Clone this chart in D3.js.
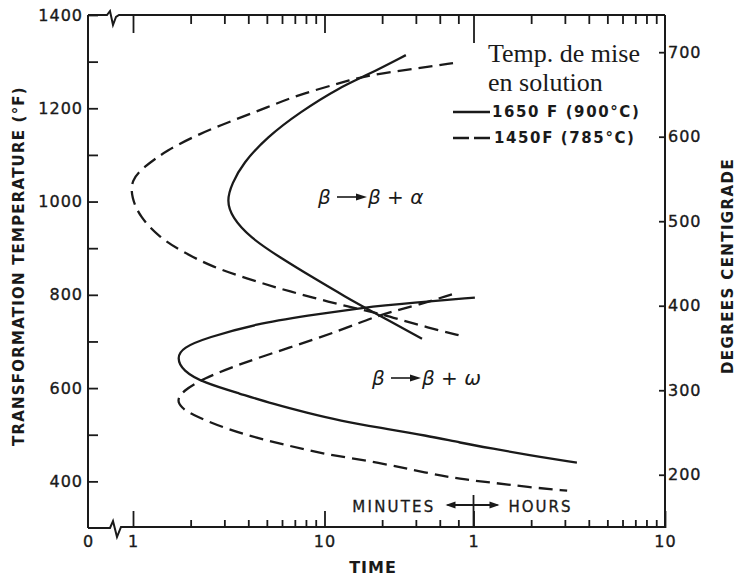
<!DOCTYPE html>
<html>
<head>
<meta charset="utf-8">
<script src="https://cdn.jsdelivr.net/npm/d3@7"></script>
<style>
  html, body { margin: 0; padding: 0; background: #fff; }
  svg { display: block; }
  .lbl { font-family: "DejaVu Sans", sans-serif; fill: #1a1a1a; }
</style>
</head>
<body>
<svg id="chart" width="739" height="577"></svg>
<script>
// ---------------- data (time in minutes, temperature in °F) ----------------
const TIME_DOMAIN = [1, 600];                 // 1 min .. 10 h
const TEMP_F_DOMAIN = [300, 1400];
const TEMP_C_DOMAIN = [137, 744];             // Celsius scale as printed on the right axis
const TIME_MAJOR = [1, 10, 60, 600];
const TIME_MAJOR_LABELS = ["1", "10", "1", "10"];
const TIME_MINOR = [2, 3, 4, 5, 6, 7, 8, 9, 20, 30, 40, 50, 120, 180, 240, 300, 360, 420, 480, 540];
const TEMP_F_MAJOR = [400, 600, 800, 1000, 1200, 1400];
const TEMP_F_MINOR = [500, 700, 900, 1100, 1300];
const TEMP_C_TICKS = [200, 300, 400, 500, 600, 700];

// 1650 F (900°C) solution temperature - solid
const solid1650Upper = [[26.6,1314],[16.7,1271],[12.0,1245],[7.45,1192],[5.0,1138],[3.75,1082],[3.29,1039],[3.08,1002],[3.29,966],[4.08,923],[5.86,880],[8.7,837],[13.1,794],[16.7,770],[32.3,706]];
const solid1650Lower = [[61,794],[29,783],[15.9,773],[8.1,755],[4.44,738],[2.43,708],[1.82,687],[1.69,665],[1.82,637],[2.32,612],[3.62,588],[5.38,566],[8.1,547],[12.05,530],[19.5,515],[34.3,498],[51,483],[76,470],[114,457],[208,440]];
// 1450 F (785°C) solution temperature - dashed
const dashed1450Upper = [[46.9,1297],[31.5,1286],[16.7,1271],[12.05,1254],[7.45,1230],[5.01,1202],[3.33,1174],[2.24,1146],[1.5,1110],[1.13,1073],[0.98,1046],[0.98,1009],[1.09,966],[1.38,923],[1.76,895],[2.62,859],[3.94,835],[5.86,813],[8.7,794],[13.1,775],[19.5,760],[29,738],[54,710]];
const dashed1450Lower = [[46.3,801],[29,775],[19.5,758],[12.05,723],[6.6,687],[3.62,652],[2.32,620],[1.82,594],[1.69,573],[1.8,558],[1.98,545],[2.95,515],[4.44,493],[6.6,476],[9.8,459],[19.5,440],[34.3,418],[51,405],[76,397],[114,388],[185,380]];

const LEGEND_TITLE = ["Temp. de mise", "en solution"];
const LEGEND_ITEMS = ["1650 F (900°C)", "1450F (785°C)"];

// ---------------- layout ----------------
const L = 88, R = 665, T = 15, B = 528;
const ink = "#1a1a1a";
const svg = d3.select("#chart");

const x = d3.scaleLog().domain(TIME_DOMAIN).range([133, R]);
const y = d3.scaleLinear().domain(TEMP_F_DOMAIN).range([B, T]);
const yC = d3.scaleLinear().domain(TEMP_C_DOMAIN).range([B, T]);

function styleAxis(g) {
  g.select(".domain").remove();
  g.selectAll(".tick line").attr("stroke", ink).attr("stroke-width", 1.8);
  g.selectAll(".tick text").attr("class", "lbl").attr("font-size", 16)
    .attr("letter-spacing", 1).attr("fill", ink).attr("stroke", ink).attr("stroke-width", 0.35);
}

// frame lines (with axis breaks on the time axis)
const frame = svg.append("g").attr("fill", "none").attr("stroke", ink).attr("stroke-width", 2);
frame.append("path").attr("d", `M${L},${T} V${B}`);
frame.append("path").attr("d", `M${R},${T} V${B}`);
frame.append("path").attr("d", `M${L},${B} H110 L113,521 L117,537 L121,527 H${R}`);
frame.append("path").attr("d", `M${L},${T} H107 L110,11 L113,25 L116,17 L119,15 H${R}`);

// left °F axis
svg.append("g").attr("transform", `translate(${L},0)`)
  .call(d3.axisLeft(y).tickValues(TEMP_F_MAJOR).tickSize(-10).tickPadding(5).tickFormat(d3.format("d")))
  .call(styleAxis);
svg.append("g").attr("transform", `translate(${L},0)`)
  .call(d3.axisLeft(y).tickValues(TEMP_F_MINOR).tickSize(-10).tickFormat(""))
  .call(styleAxis);

// right °C axis
svg.append("g").attr("transform", `translate(${R},0)`)
  .call(d3.axisRight(yC).tickValues(TEMP_C_TICKS).tickSize(-6).tickPadding(3).tickFormat(d3.format("d")))
  .call(styleAxis);

// bottom time axis
svg.append("g").attr("transform", `translate(0,${B})`)
  .call(d3.axisBottom(x).tickValues(TIME_MAJOR).tickSize(-17).tickPadding(8)
    .tickFormat((d, i) => TIME_MAJOR_LABELS[i]))
  .call(styleAxis);
svg.append("g").attr("transform", `translate(0,${B})`)
  .call(d3.axisBottom(x).tickValues(TIME_MINOR).tickSize(-8).tickFormat(""))
  .call(styleAxis);
// "0" at the origin
svg.append("text").attr("class", "lbl").attr("x", L).attr("y", B + 8).attr("dy", "0.71em")
  .attr("text-anchor", "middle").attr("font-size", 16).attr("stroke", ink).attr("stroke-width", 0.35).text("0");

// top time axis (ticks only)
svg.append("g").attr("transform", `translate(0,${T})`)
  .call(d3.axisTop(x).tickValues([1, 10]).tickSize(-18).tickFormat(""))
  .call(styleAxis);
svg.append("g").attr("transform", `translate(0,${T})`)
  .call(d3.axisTop(x).tickValues([60]).tickSize(-28).tickFormat(""))
  .call(styleAxis);
svg.append("g").attr("transform", `translate(0,${T})`)
  .call(d3.axisTop(x).tickValues(TIME_MINOR).tickSize(-9).tickFormat(""))
  .call(styleAxis);

// axis titles
svg.append("text").attr("class", "lbl").attr("font-weight", "bold").attr("font-size", 15)
  .attr("letter-spacing", 1.2)
  .attr("transform", "translate(19,266) rotate(-90)").attr("dy", "0.35em")
  .attr("text-anchor", "middle").text("TRANSFORMATION TEMPERATURE (°F)");
svg.append("text").attr("class", "lbl").attr("font-weight", "bold").attr("font-size", 15)
  .attr("letter-spacing", 1.4)
  .attr("transform", "translate(728,266) rotate(-90)").attr("dy", "0.35em")
  .attr("text-anchor", "middle").text("DEGREES CENTIGRADE");
svg.append("text").attr("class", "lbl").attr("font-weight", "bold").attr("font-size", 16)
  .attr("letter-spacing", 1).attr("x", 373).attr("y", 573).attr("text-anchor", "middle").text("TIME");

// MINUTES <-+-> HOURS
const hx = x(60);
svg.append("text").attr("class", "lbl").attr("font-size", 15).attr("letter-spacing", 2.2)
  .attr("stroke", ink).attr("stroke-width", 0.3)
  .attr("x", hx - 38).attr("y", 512).attr("text-anchor", "end").text("MINUTES");
svg.append("text").attr("class", "lbl").attr("font-size", 15).attr("letter-spacing", 2)
  .attr("stroke", ink).attr("stroke-width", 0.3)
  .attr("x", hx + 35).attr("y", 512).attr("text-anchor", "start").text("HOURS");
const arr = svg.append("g").attr("stroke", ink).attr("stroke-width", 1.8).attr("fill", ink);
arr.append("line").attr("x1", hx).attr("x2", hx).attr("y1", 495).attr("y2", B);
arr.append("line").attr("x1", hx - 26).attr("x2", hx + 24).attr("y1", 505).attr("y2", 505);
arr.append("path").attr("stroke", "none").attr("d", `M${hx - 28},505 L${hx - 18},501.5 L${hx - 18},508.5 Z`);
arr.append("path").attr("stroke", "none").attr("d", `M${hx + 26},505 L${hx + 16},501.5 L${hx + 16},508.5 Z`);

// curves
const line = d3.line().x(d => x(d[0])).y(d => y(d[1])).curve(d3.curveBasis);
const curves = svg.append("g").attr("fill", "none").attr("stroke", ink).attr("stroke-width", 2.3)
  .attr("stroke-linecap", "butt");
[solid1650Upper, solid1650Lower].forEach(s => curves.append("path").attr("d", line(s)));
[dashed1450Upper, dashed1450Lower].forEach(s => curves.append("path").attr("d", line(s))
  .attr("stroke-dasharray", "14,7"));

// phase annotations
function phase(x0, yc, sym) {
  const g = svg.append("g");
  g.append("text").attr("class", "lbl").attr("font-size", 20).attr("font-style", "italic")
    .attr("x", x0).attr("y", yc).attr("dy", "0.35em").text("β");
  g.append("line").attr("x1", x0 + 19).attr("x2", x0 + 46).attr("y1", yc).attr("y2", yc)
    .attr("stroke", ink).attr("stroke-width", 1.6);
  g.append("path").attr("fill", ink).attr("d", `M${x0 + 49},${yc} L${x0 + 38},${yc - 3.5} L${x0 + 38},${yc + 3.5} Z`);
  g.append("text").attr("class", "lbl").attr("font-size", 20).attr("font-style", "italic")
    .attr("x", x0 + 50).attr("y", yc).attr("dy", "0.35em").text("β + " + sym);
}
phase(318, 197, "α");
phase(372, 378, "ω");

// legend
svg.append("text").attr("x", 488).attr("y", 62).attr("font-family", "Liberation Serif, serif")
  .attr("font-size", 26).attr("fill", ink).text(LEGEND_TITLE[0]);
svg.append("text").attr("x", 488).attr("y", 91).attr("font-family", "Liberation Serif, serif")
  .attr("font-size", 26).attr("fill", ink).text(LEGEND_TITLE[1]);
const lg = svg.append("g");
lg.append("line").attr("x1", 453).attr("x2", 490).attr("y1", 112).attr("y2", 112)
  .attr("stroke", ink).attr("stroke-width", 2.4);
lg.append("line").attr("x1", 453).attr("x2", 490).attr("y1", 138).attr("y2", 138)
  .attr("stroke", ink).attr("stroke-width", 2.4).attr("stroke-dasharray", "16,5");
lg.append("text").attr("class", "lbl").attr("font-weight", "bold").attr("font-size", 15)
  .attr("letter-spacing", 1.6).attr("x", 492).attr("y", 112).attr("dy", "0.36em").text(LEGEND_ITEMS[0]);
lg.append("text").attr("class", "lbl").attr("font-weight", "bold").attr("font-size", 15)
  .attr("letter-spacing", 1.6).attr("x", 494).attr("y", 138).attr("dy", "0.36em").text(LEGEND_ITEMS[1]);
</script>
</body>
</html>
